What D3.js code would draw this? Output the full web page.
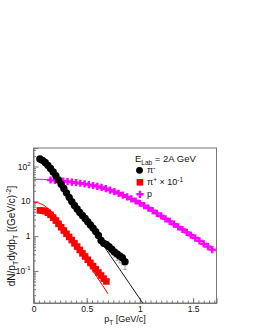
<!DOCTYPE html>
<html>
<head>
<meta charset="utf-8">
<script src="https://cdn.jsdelivr.net/npm/d3@7"></script>
<style>
  body { margin: 0; background: #fff; }
  text { font-family: "Liberation Sans", Arial, sans-serif; fill: #111; }
</style>
</head>
<body>
<div id="chart"></div>
<script>
  // pi- spectrum (black circles)
  var piMinusPt  = [0.06, 0.085, 0.11, 0.135, 0.16, 0.185, 0.21, 0.235, 0.26, 0.285, 0.31, 0.335, 0.36, 0.385, 0.41, 0.435,
                    0.46, 0.485, 0.51, 0.535, 0.56, 0.585, 0.61, 0.635, 0.66, 0.685, 0.71, 0.735, 0.76, 0.785, 0.81, 0.835, 0.86];
  var piMinusVal = [165, 150, 130, 108, 88, 70, 54, 41, 31, 23.5, 17.5, 13, 9.8, 7.6, 6.0, 4.8,
                    3.9, 3.2, 2.6, 2.1, 1.7, 1.35, 1.05, 0.75, 0.62, 0.58, 0.50, 0.42, 0.35, 0.31, 0.27, 0.24, 0.185];
  // error bars only visible on the last points
  var piMinusErrPt = [0.735, 0.76, 0.785, 0.81, 0.835, 0.86];
  var piMinusErrLo = [0.33, 0.25, 0.20, 0.17, 0.15, 0.11];
  var piMinusErrHi = [0.50, 0.43, 0.40, 0.36, 0.33, 0.26];
  // exponential fit on the tail (straight on log scale)
  var piMinusFitPt  = [0.65, 1.06];
  var piMinusFitVal = [0.58, 0.0085];

  // pi+ x 0.1 (red squares)
  var piPlusPt  = [0.06, 0.085, 0.11, 0.135, 0.16, 0.185, 0.21, 0.235, 0.26, 0.285, 0.31, 0.335, 0.36,
                   0.385, 0.41, 0.435, 0.46, 0.485, 0.51, 0.535, 0.56, 0.585, 0.61, 0.635, 0.66, 0.685];
  var piPlusVal = [5.5, 5.4, 5.2, 4.7, 4.1, 3.4, 2.8, 2.25, 1.8, 1.45, 1.17, 0.95, 0.77,
                   0.62, 0.50, 0.40, 0.32, 0.26, 0.21, 0.17, 0.138, 0.112, 0.09, 0.074, 0.06, 0.05];
  var piPlusFitPt  = [0.0, 0.05, 0.1, 0.15, 0.2, 0.25, 0.3, 0.35, 0.4, 0.45, 0.5, 0.55, 0.6, 0.65, 0.7];
  var piPlusFitVal = [9.5, 9.0, 7.6, 5.8, 4.0, 2.6, 1.6, 0.95, 0.56, 0.33, 0.19, 0.11, 0.065, 0.038, 0.022];

  // protons (magenta crosses)
  var protonPt  = [0.16, 0.20, 0.24, 0.28, 0.32, 0.36, 0.40, 0.44, 0.48, 0.52, 0.56, 0.60, 0.64,
                   0.68, 0.72, 0.76, 0.80, 0.84, 0.88, 0.92, 0.96, 1.00, 1.04, 1.08, 1.12, 1.16,
                   1.20, 1.24, 1.28, 1.32, 1.36, 1.40, 1.44, 1.48, 1.52, 1.56, 1.60, 1.64, 1.68];
  var protonVal = [41, 40.2, 39, 38, 36.8, 35.5, 34.3, 33, 31.7, 30.2, 28.5, 26.8, 25,
                   23, 21, 19, 17, 15, 13.4, 11.7, 10.2, 8.8, 7.5, 6.4, 5.4, 4.5,
                   3.8, 3.15, 2.65, 2.2, 1.85, 1.55, 1.28, 1.06, 0.88, 0.73, 0.6, 0.5, 0.41];
  var protonFitPt  = [0.0, 0.05, 0.1, 0.15, 0.25, 0.35, 0.45, 0.55, 0.65, 0.75, 0.85, 0.95, 1.05,
                      1.15, 1.25, 1.35, 1.45, 1.55, 1.65, 1.72];
  var protonFitVal = [43, 43, 42.5, 41.5, 38.5, 35.4, 32.7, 28.6, 24.3, 19.3, 14.4, 10, 7.0,
                      4.5, 2.96, 1.93, 1.26, 0.82, 0.52, 0.36];

  var xMajor = [0, 0.5, 1, 1.5];
  var yMajor = [0.1, 1, 10, 100];
  var yMajorLabels = [["10", "-1"], ["1", ""], ["10", ""], ["10", "2"]];

  var W = 255, H = 330;
  var pLeft = 33.5, pRight = 216.5, pTop = 148, pBottom = 303;
  var axisColor = "#777";

  var svg = d3.select("#chart").append("svg")
    .attr("width", W).attr("height", H)
    .style("background", "#fff");

  var x = d3.scaleLinear().domain([0, 1.72]).range([pLeft, pRight]);
  var y = d3.scaleLog().domain([0.012, 340]).range([pBottom, pTop]);

  svg.append("clipPath").attr("id", "plotclip")
    .append("rect").attr("x", pLeft).attr("y", pTop)
    .attr("width", pRight - pLeft).attr("height", pBottom - pTop);

  // frame
  svg.append("rect")
    .attr("x", pLeft).attr("y", pTop)
    .attr("width", pRight - pLeft).attr("height", pBottom - pTop)
    .attr("fill", "none").attr("stroke", axisColor).attr("stroke-width", 1);

  // x axis: minor then major
  var xMinor = d3.range(0, 1.72, 0.05);
  svg.append("g")
    .attr("transform", "translate(0," + pBottom + ")")
    .call(d3.axisBottom(x).tickValues(xMinor).tickSize(-2.5).tickFormat(""))
    .call(g => g.select(".domain").remove())
    .call(g => g.selectAll("line").attr("stroke", axisColor));
  var xAx = svg.append("g")
    .attr("transform", "translate(0," + pBottom + ")")
    .call(d3.axisBottom(x).tickValues(xMajor).tickSize(-5).tickPadding(3).tickFormat(d => String(d)));
  xAx.select(".domain").attr("stroke", axisColor);
  xAx.selectAll("line").attr("stroke", axisColor);
  xAx.selectAll("text").style("font-size", "8.5px").attr("fill", "#111")
    .style("font-family", "Liberation Sans, Arial, sans-serif");

  // y axis: minor ticks 2..9 per decade
  var yMinor = [];
  [0.01, 0.1, 1, 10, 100].forEach(function(dec) {
    for (var m = 2; m <= 9; m++) {
      var v = dec * m;
      if (v >= 0.012 && v <= 340) yMinor.push(v);
    }
  });
  svg.append("g")
    .attr("transform", "translate(" + pLeft + ",0)")
    .call(d3.axisLeft(y).tickValues(yMinor).tickSize(-2.5).tickFormat(""))
    .call(g => g.select(".domain").remove())
    .call(g => g.selectAll("line").attr("stroke", axisColor));
  var yAx = svg.append("g")
    .attr("transform", "translate(" + pLeft + ",0)")
    .call(d3.axisLeft(y).tickValues(yMajor).tickSize(-5).tickFormat(""));
  yAx.select(".domain").attr("stroke", axisColor);
  yAx.selectAll("line").attr("stroke", axisColor);

  // y labels with superscripts
  yMajor.forEach(function(v, i) {
    var lab = yMajorLabels[i];
    var t = svg.append("text")
      .attr("x", pLeft - 3).attr("y", y(v) + 3)
      .attr("text-anchor", "end")
      .style("font-size", "8.5px");
    t.append("tspan").text(lab[0]);
    if (lab[1]) {
      t.append("tspan").attr("dy", -3.5).style("font-size", "6px").text(lab[1]);
    }
  });

  // axis titles
  var xt = svg.append("text")
    .attr("x", (pLeft + pRight) / 2).attr("y", 322)
    .attr("text-anchor", "middle").style("font-size", "9px");
  xt.append("tspan").text("p");
  xt.append("tspan").attr("dy", 2.5).style("font-size", "6.5px").text("T");
  xt.append("tspan").attr("dy", -2.5).text(" [GeV/c]");

  var yt = svg.append("text")
    .attr("transform", "translate(15,236) rotate(-90)")
    .attr("text-anchor", "middle").style("font-size", "10px");
  yt.append("tspan").text("dN/p");
  yt.append("tspan").attr("dy", 2.8).style("font-size", "7px").text("T");
  yt.append("tspan").attr("dy", -2.8).text("dydp");
  yt.append("tspan").attr("dy", 2.8).style("font-size", "7px").text("T");
  yt.append("tspan").attr("dy", -2.8).text(" [(GeV/c)");
  yt.append("tspan").attr("dy", -4).style("font-size", "7px").text("-2");
  yt.append("tspan").attr("dy", 4).text("]");

  var plot = svg.append("g").attr("clip-path", "url(#plotclip)");
  var line = d3.line().x(d => x(d[0])).y(d => y(d[1]));

  // fit lines
  plot.append("path").datum(d3.zip(protonFitPt, protonFitVal))
    .attr("fill", "none").attr("stroke", "#ff00ff").attr("stroke-width", 1).attr("d", line);
  plot.append("path").datum(d3.zip(piPlusFitPt, piPlusFitVal))
    .attr("fill", "none").attr("stroke", "#ff0000").attr("stroke-width", 1).attr("d", line);

  // pi- error bars
  piMinusErrPt.forEach(function(p, i) {
    plot.append("line")
      .attr("x1", x(p)).attr("x2", x(p))
      .attr("y1", y(piMinusErrLo[i])).attr("y2", y(piMinusErrHi[i]))
      .attr("stroke", "#888").attr("stroke-width", 0.8);
    plot.append("line")
      .attr("x1", x(p) - 1.5).attr("x2", x(p) + 1.5)
      .attr("y1", y(piMinusErrLo[i])).attr("y2", y(piMinusErrLo[i]))
      .attr("stroke", "#888").attr("stroke-width", 0.8);
  });

  // markers
  var crossPath = function(a, t) {
    return "M" + (-a) + "," + (-t) + "H" + (-t) + "V" + (-a) + "H" + t + "V" + (-t) + "H" + a +
      "V" + t + "H" + t + "V" + a + "H" + (-t) + "V" + t + "H" + (-a) + "Z";
  };

  plot.selectAll(".proton").data(d3.zip(protonPt, protonVal)).enter()
    .append("path").attr("class", "proton")
    .attr("transform", d => "translate(" + x(d[0]) + "," + y(d[1]) + ")")
    .attr("d", crossPath(3.6, 1.2)).attr("fill", "#ff00ff");

  plot.selectAll(".piplus").data(d3.zip(piPlusPt, piPlusVal)).enter()
    .append("rect").attr("class", "piplus")
    .attr("x", d => x(d[0]) - 3.3).attr("y", d => y(d[1]) - 3.3)
    .attr("width", 6.6).attr("height", 6.6).attr("fill", "#ff0000");

  plot.selectAll(".piminus").data(d3.zip(piMinusPt, piMinusVal)).enter()
    .append("circle").attr("class", "piminus")
    .attr("cx", d => x(d[0])).attr("cy", d => y(d[1]))
    .attr("r", 3.7).attr("fill", "#000");

  plot.append("path").datum(d3.zip(piMinusFitPt, piMinusFitVal))
    .attr("fill", "none").attr("stroke", "#000").attr("stroke-width", 0.9).attr("d", line);

  // legend
  var lg = svg.append("g").style("font-size", "9px");
  var t0 = lg.append("text").attr("x", 135).attr("y", 162).style("font-size", "9.5px");
  t0.append("tspan").text("E");
  t0.append("tspan").attr("dy", 2.5).style("font-size", "6.5px").text("Lab");
  t0.append("tspan").attr("dy", -2.5).text(" = 2A GeV");

  lg.append("circle").attr("cx", 139.5).attr("cy", 170.3).attr("r", 3.4).attr("fill", "#000");
  var t1 = lg.append("text").attr("x", 147).attr("y", 173.3);
  t1.append("tspan").text("π");
  t1.append("tspan").attr("dy", -3.2).style("font-size", "6.5px").text("-");

  lg.append("rect").attr("x", 136.6).attr("y", 179).attr("width", 6.6).attr("height", 6.6).attr("fill", "#ff0000");
  var t2 = lg.append("text").attr("x", 147).attr("y", 185.3);
  t2.append("tspan").text("π");
  t2.append("tspan").attr("dy", -3.2).style("font-size", "6.5px").text("+");
  t2.append("tspan").attr("dy", 3.2).text(" × 10");
  t2.append("tspan").attr("dy", -3.2).style("font-size", "6.5px").text("-1");

  lg.append("path").attr("transform", "translate(140,194.3)")
    .attr("d", crossPath(3.6, 1.2)).attr("fill", "#ff00ff");
  lg.append("text").attr("x", 147).attr("y", 197.3).text("p");
</script>
</body>
</html>
